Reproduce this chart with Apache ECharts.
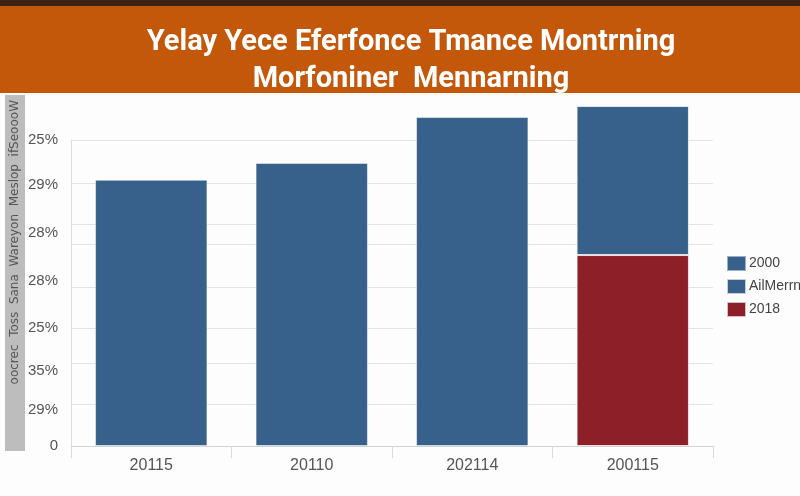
<!DOCTYPE html>
<html>
<head>
<meta charset="utf-8">
<script src="https://cdn.jsdelivr.net/npm/echarts@6/dist/echarts.min.js"></script>
<style>
html,body{margin:0;padding:0;background:#fdfdfd;}
#chart{width:800px;height:496px;}
</style>
</head>
<body>
<div id="chart"></div>
<script>
// ---- data ----
var categories = ['20115', '20110', '202114', '200115'];
var seriesNames = ['2000', 'AilMerrn', '2018'];
var values2000 = [87, 92.5, 107.5, '-'];
var valuesAilMerrn = ['-', '-', '-', 48.7];
var values2018 = ['-', '-', '-', 62.4];
var yLabelValues = [0, 11.8, 24.5, 38.6, 53.9, 69.6, 85.3, 100];
var yLabelTexts = ['0', '29%', '35%', '25%', '28%', '28%', '29%', '25%'];
var yGridValues = [0, 13.7, 27.1, 38.6, 52, 66, 72.5, 85.9, 100];
var titleText = 'Yelay Yece Eferfonce Tmance Montrning\nMorfoniner  Mennarning';
var sideText = 'oocrec  Toss  Sana  Wareyon  Meslop  ifSeoooW';

var chart = echarts.init(document.getElementById('chart'));
var blue = '#37618a';
var red = '#8d1f28';

chart.setOption({
  backgroundColor: '#fdfdfd',
  animation: false,
  graphic: [
    { type: 'rect', left: 0, top: 0, shape: { width: 800, height: 6 }, style: { fill: '#3a2214' }, z: 0 },
    { type: 'rect', left: 0, top: 6, shape: { width: 800, height: 87 }, style: { fill: '#c4580a' }, z: 0 },
    { type: 'rect', left: 5, top: 95, shape: { width: 20, height: 356 }, style: { fill: '#bdbdbd' }, z: 0 },
    { type: 'text', left: 9, top: 100, rotation: Math.PI / 2,
      style: { text: sideText, fill: '#555', font: '12px "DejaVu Sans"' }, z: 1 }
  ],
  title: {
    text: titleText,
    left: 406,
    textAlign: 'center',
    top: 19,
    textStyle: { color: '#ffffff', fontSize: 29, fontWeight: 'bold', fontFamily: 'Roboto', lineHeight: 37 }
  },
  legend: {
    data: seriesNames,
    orient: 'vertical',
    left: 721,
    top: 250,
    itemWidth: 19,
    itemHeight: 15,
    itemGap: 6,
    icon: 'rect',
    textStyle: { color: '#444', fontSize: 14, fontFamily: 'Liberation Sans', padding: [0, 0, 0, -2] }
  },
  grid: { left: 71, right: 87, top: 140, bottom: 50 },
  xAxis: {
    type: 'category',
    data: categories,
    axisLine: { lineStyle: { color: '#d4d4d4' } },
    axisTick: { show: true, length: 12, lineStyle: { color: '#d9d9d9' } },
    axisLabel: { color: '#555', fontSize: 16, fontFamily: 'Liberation Sans', margin: 12 }
  },
  yAxis: {
    type: 'value',
    min: 0,
    max: 100,
    axisLine: { show: true, lineStyle: { color: '#dddddd' } },
    axisTick: { show: false, customValues: yGridValues },
    splitLine: { show: true, lineStyle: { color: '#e3e3e3' } },
    axisLabel: {
      customValues: yLabelValues,
      color: '#555',
      fontSize: 15,
      fontFamily: 'Liberation Sans',
      margin: 13,
      formatter: function (v) {
        var i = yLabelValues.indexOf(v);
        return i >= 0 ? yLabelTexts[i] : '';
      }
    }
  },
  series: [
    { name: '2018', type: 'bar', stack: 's', data: values2018, barWidth: '70%', clip: false,
      itemStyle: { color: red, borderColor: 'rgba(255,255,255,0.7)', borderWidth: 1 } },
    { name: 'AilMerrn', type: 'bar', stack: 's', data: valuesAilMerrn, barWidth: '70%', clip: false,
      itemStyle: { color: blue, borderColor: 'rgba(255,255,255,0.7)', borderWidth: 1 } },
    { name: '2000', type: 'bar', stack: 's', data: values2000, barWidth: '70%', clip: false,
      itemStyle: { color: blue, borderColor: 'rgba(255,255,255,0.5)', borderWidth: 1 } }
  ]
});
</script>
</body>
</html>
